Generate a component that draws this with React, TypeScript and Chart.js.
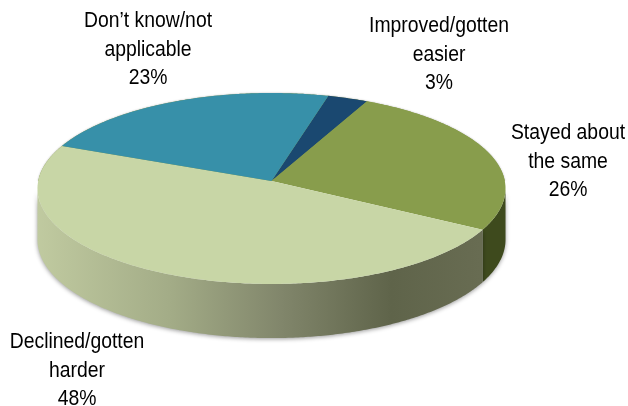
import { useEffect, useRef } from "react";
import { Chart, registerables } from "chart.js";

Chart.register(...registerables);

const categories = [
  ["Improved/gotten", "easier"],
  ["Stayed about", "the same"],
  ["Declined/gotten", "harder"],
  ["Don\u2019t know/not", "applicable"],
];
const shares = [3, 26, 48, 23];
const faceColors = ["#1a4870", "#889d4c", "#c8d6a6", "#3790a9"];
const labelCenters = [
  [439, 32],
  [568, 139],
  [77, 348],
  [148, 27],
];

// Pie orientation and the projected disc it sits on
const ROTATION_DEG = 15.2;
const APEX_X = 271.5;
const APEX_Y = 181;
const BASE_Y = 232;
const SCALE_X = 233.3;
const SCALE_Y = 94.9;
const BASE_STRETCH = 1.03;
const TILT = 0.0785;
const FRONT_FROM = (4.5 * Math.PI) / 180;
const FRONT_TO = (175.5 * Math.PI) / 180;

const LINE_HEIGHT = 28.5;
const FONT_PX = 22;
const TEXT_SQUEEZE = 0.88;

// Perspective projection of a point on the rim of the unit disc
const topRim = (t: number): [number, number] => {
  const w = 1 - TILT * Math.sin(t);
  return [APEX_X + (SCALE_X * Math.cos(t)) / w, APEX_Y + (SCALE_Y * Math.sin(t)) / w];
};
const baseRim = (t: number): [number, number] => {
  const w = 1 - TILT * Math.sin(t);
  return [APEX_X + (SCALE_X * Math.cos(t)) / w, BASE_Y + (SCALE_Y * BASE_STRETCH * Math.sin(t)) / w];
};

const sweep = (a: number, b: number) => {
  const n = Math.max(2, Math.ceil(Math.abs(b - a) / 0.01));
  return Array.from({ length: n + 1 }, (_, i) => a + ((b - a) * i) / n);
};

const wallFill = (ctx: CanvasRenderingContext2D, index: number) => {
  if (index === 1) return "#3e4a1d";
  const g = ctx.createLinearGradient(37, 0, 480, 0);
  g.addColorStop(0, "#c0caa0");
  g.addColorStop(0.3, "#a3ac87");
  g.addColorStop(0.55, "#81866b");
  g.addColorStop(0.8, "#5f644a");
  g.addColorStop(1, "#686c52");
  return g;
};

const pie3d = {
  id: "pie3d",
  beforeDatasetsDraw(chart: Chart) {
    const ctx = chart.ctx;
    const arcs = chart.getDatasetMeta(0).data as any[];

    // Side wall: only the part of each slice that faces the viewer
    ctx.save();
    ctx.shadowColor = "rgba(0,0,0,0.4)";
    ctx.shadowBlur = 4;
    ctx.shadowOffsetY = 1;
    arcs.forEach((arc, i) => {
      const from = Math.max(arc.startAngle, FRONT_FROM);
      const to = Math.min(arc.endAngle, FRONT_TO);
      if (to <= from) return;
      ctx.beginPath();
      sweep(from, to).forEach((t) => ctx.lineTo(...topRim(t)));
      sweep(to, from).forEach((t) => ctx.lineTo(...baseRim(t)));
      ctx.closePath();
      ctx.fillStyle = wallFill(ctx, i);
      ctx.fill();
    });
    ctx.restore();

    // Faint rim shadow around the whole top face
    ctx.save();
    ctx.shadowColor = "rgba(0,0,0,0.3)";
    ctx.shadowBlur = 2;
    ctx.beginPath();
    sweep(Math.PI, 2 * Math.PI).forEach((t) => ctx.lineTo(...topRim(t)));
    ctx.closePath();
    ctx.fillStyle = "#889d4c";
    ctx.fill();
    ctx.restore();

    // Top face, slice by slice
    arcs.forEach((arc) => {
      ctx.beginPath();
      ctx.moveTo(APEX_X, APEX_Y);
      sweep(arc.startAngle, arc.endAngle).forEach((t) => ctx.lineTo(...topRim(t)));
      ctx.closePath();
      ctx.fillStyle = arc.options.backgroundColor;
      ctx.fill();
    });
    return false;
  },
  afterDraw(chart: Chart) {
    const ctx = chart.ctx;
    ctx.save();
    ctx.fillStyle = "#000000";
    ctx.textAlign = "center";
    ctx.textBaseline = "alphabetic";
    ctx.font = `${FONT_PX}px "Liberation Sans", Arial, sans-serif`;
    categories.forEach((lines, i) => {
      const [cx, top] = labelCenters[i];
      [...lines, `${shares[i]}%`].forEach((line, k) => {
        ctx.save();
        ctx.translate(cx, top + k * LINE_HEIGHT);
        ctx.scale(TEXT_SQUEEZE, 1);
        ctx.fillText(line, 0, 0);
        ctx.restore();
      });
    });
    ctx.restore();
  },
};

export default function App() {
  const ref = useRef<HTMLCanvasElement>(null);

  useEffect(() => {
    const chart = new Chart(ref.current!, {
      type: "pie",
      data: {
        labels: categories.map((c) => c.join(" ")),
        datasets: [{ data: shares, backgroundColor: faceColors, borderWidth: 0 }],
      },
      options: {
        animation: false,
        responsive: false,
        rotation: ROTATION_DEG,
        plugins: { legend: { display: false }, tooltip: { enabled: false } },
      },
      plugins: [pie3d],
    });
    return () => chart.destroy();
  }, []);

  return (
    <canvas
      ref={ref}
      width={628}
      height={406}
      style={{ position: "absolute", left: 0, top: 0, display: "block", background: "#ffffff" }}
    />
  );
}
